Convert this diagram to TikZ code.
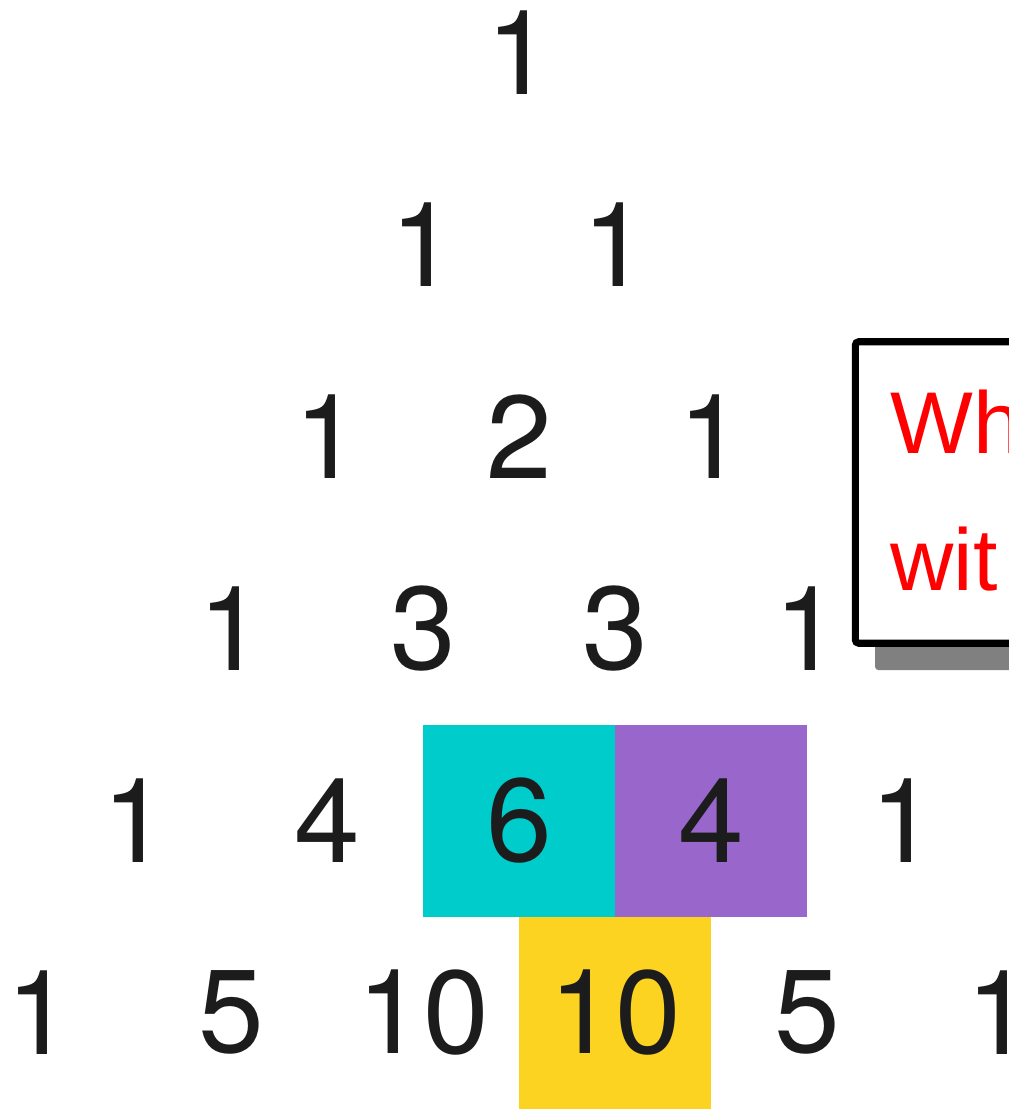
\documentclass[tikz,border=0pt]{standalone}
\usepackage{fontspec}
\setmainfont{Liberation Sans}
\newfontfamily\pasfont{TeX Gyre Heros}
\definecolor{pasInk}{HTML}{1C1C1C}
\definecolor{pasCyan}{HTML}{00CCCC}
\definecolor{pasPurple}{HTML}{9966CC}
\definecolor{pasYellow}{HTML}{FDD321}
\definecolor{noteShadow}{HTML}{808080}
\begin{document}
\begin{tikzpicture}[
    pasNum/.style={rectangle,minimum size=2cm,inner sep=0pt,text=pasInk,font=\pasfont\fontsize{35}{42}\selectfont},
    noteTxt/.style={anchor=base west,inner sep=0pt,text=red,font=\fontsize{26}{30}\selectfont},
]
\useasboundingbox (0,0) rectangle (10.51,-11.552);
% note card on the right
\fill[noteShadow,rounded corners=1pt] (9.115,-6.98) rectangle (11.6,-5);
\draw[line width=2.1pt,fill=white,rounded corners=1pt] (8.91,-3.56) rectangle (11.6,-6.70);
\node[noteTxt] (noteA) at (9.27,-4.72) {Wh};
\node[noteTxt] (noteB) at (9.27,-6.146) {wit};
% row 0
\node[pasNum] (r0c0) at (5.41,-0.55) {1};
% row 1
\node[pasNum] (r1c0) at (4.41,-2.55) {1};
\node[pasNum] (r1c1) at (6.41,-2.55) {1};
% row 2
\node[pasNum] (r2c0) at (3.41,-4.55) {1};
\node[pasNum] (r2c1) at (5.41,-4.55) {2};
\node[pasNum] (r2c2) at (7.41,-4.55) {1};
% row 3
\node[pasNum] (r3c0) at (2.41,-6.55) {1};
\node[pasNum] (r3c1) at (4.41,-6.55) {3};
\node[pasNum] (r3c2) at (6.41,-6.55) {3};
\node[pasNum] (r3c3) at (8.41,-6.55) {1};
% row 4
\node[pasNum] (r4c0) at (1.41,-8.55) {1};
\node[pasNum] (r4c1) at (3.41,-8.55) {4};
\node[pasNum,fill=pasCyan] (r4c2) at (5.41,-8.55) {6};
\node[pasNum,fill=pasPurple] (r4c3) at (7.41,-8.55) {4};
\node[pasNum] (r4c4) at (9.41,-8.55) {1};
% row 5
\node[pasNum] (r5c0) at (0.41,-10.55) {1};
\node[pasNum] (r5c1) at (2.41,-10.55) {5};
\node[pasNum] (r5c2) at (4.41,-10.55) {10};
\node[pasNum,fill=pasYellow] (r5c3) at (6.41,-10.55) {10};
\node[pasNum] (r5c4) at (8.41,-10.55) {5};
\node[pasNum] (r5c5) at (10.41,-10.55) {1};
\end{tikzpicture}
\end{document}
